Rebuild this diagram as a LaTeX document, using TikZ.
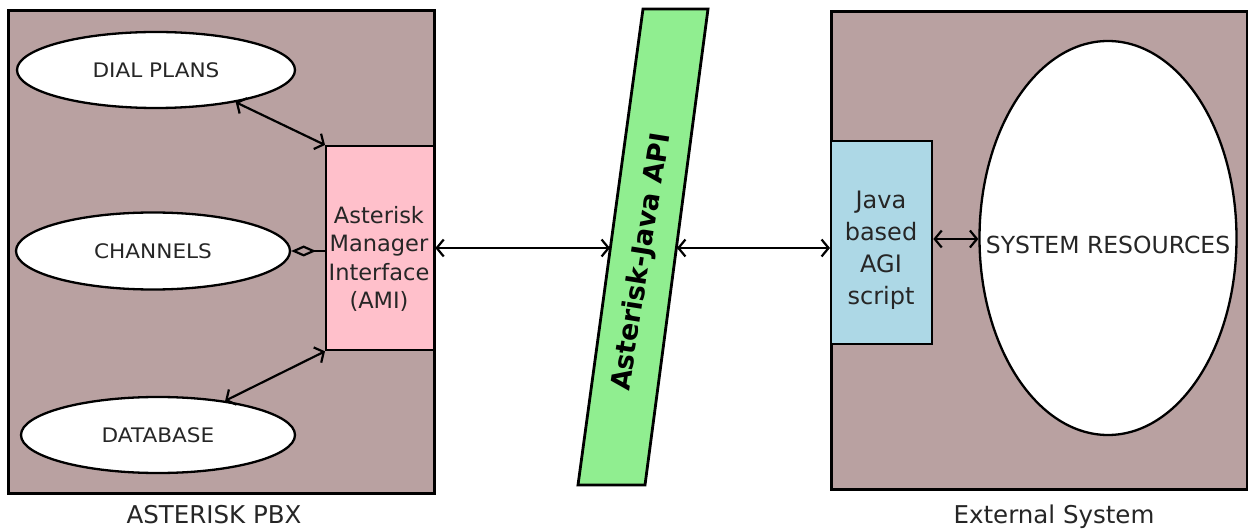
\documentclass[tikz,border=0pt]{standalone}
\usepackage{fontspec}
\setmainfont{DejaVu Sans}
\newfontfamily\ovalfont[FakeStretch=1.08]{DejaVu Sans}
\usetikzlibrary{shapes.geometric,arrows.meta}
\definecolor{boxbg}{RGB}{185,161,161}
\definecolor{amipink}{RGB}{255,192,203}
\definecolor{javablue}{RGB}{173,216,230}
\definecolor{apigreen}{RGB}{144,238,144}
\begin{document}
\begin{tikzpicture}[x=1pt,y=-1pt,
  panel/.style={draw=black, line width=2.8pt, fill=boxbg, anchor=north west, inner sep=0pt},
  oval/.style={ellipse, draw=black, line width=2.3pt, fill=white, inner sep=0pt,
    font=\ovalfont\fontsize{20}{24}\selectfont, text=black!85},
  inbox/.style={draw=black, line width=2.3pt, anchor=north west, inner sep=0pt},
  conn/.style={line width=2.2pt, {Straight Barb[length=7pt,width=17pt]}-{Straight Barb[length=7pt,width=17pt]}},
  caption/.style={anchor=base, font=\fontsize{24.5}{28}\selectfont, text=black!85},
]
\useasboundingbox (0,0) rectangle (1248,529);
\fill[white] (0,0) rectangle (1248,529);

% left panel
\node[panel, minimum width=426pt, minimum height=483pt] (pbx) at (7,9) {};
\node[caption] (pbxlabel) at (214,523) {ASTERISK PBX};

\node[oval, minimum width=278pt, minimum height=76pt] (dial) at (156,70) {DIAL PLANS};
\node[oval, minimum width=274pt, minimum height=77pt] (chan) at (153,251) {CHANNELS};
\node[oval, minimum width=274pt, minimum height=76pt] (db) at (158,435) {DATABASE};

\node[inbox, fill=amipink, minimum width=108pt, minimum height=204pt] (ami) at (325,145) {};
\node[align=center, inner sep=0pt, font=\fontsize{22.5}{28.5}\selectfont, text=black!85] (amitext) at (379,259)
  {Asterisk\\Manager\\Interface\\(AMI)};

\draw[conn] (dial.-22) -- (ami.north west);
\draw[conn] (db.27) -- (ami.south west);
\draw[line width=2.2pt, {Diamond[open,length=25pt,width=11pt]}-] (chan.east) -- (chan.east -| ami.west);

% API bar
\coordinate (apiTL) at (643,9);
\coordinate (apiTR) at (708,9);
\coordinate (apiBR) at (645,485);
\coordinate (apiBL) at (578,485);
\draw[line width=2.8pt, fill=apigreen, line join=miter] (apiTL) -- (apiTR) -- (apiBR) -- (apiBL) -- cycle;
\node[rotate=81, inner sep=0pt, font=\bfseries\fontsize{27}{30}\selectfont] (apitext) at (642,262) {Asterisk-Java API};
\coordinate (apiL) at (610,248);
\coordinate (apiR) at (677,248);

% right panel
\node[panel, minimum width=416pt, minimum height=478pt] (ext) at (830,10) {};
\node[caption] (extlabel) at (1054,523) {External System};

\node[inbox, fill=javablue, minimum width=101pt, minimum height=203pt] (java) at (830,140) {};
\node[align=center, inner sep=0pt, font=\fontsize{24}{32}\selectfont, text=black!85] (javatext) at (881,250)
  {Java\\based\\AGI\\script};

\node[ellipse, draw=black, line width=2.3pt, fill=white, minimum width=257pt, minimum height=394pt, inner sep=0pt] (sysres) at (1108,238) {};
\node[inner sep=0pt, font=\fontsize{23.5}{28}\selectfont, text=black!85] (sysrestext) at (1108,245) {SYSTEM RESOURCES};

% connectors
\draw[conn] (ami.east |- apiL) -- (apiL);
\draw[conn] (apiR) -- (apiR -| java.west);
\draw[conn] (java.east |- 0,239) -- (sysres.west |- 0,239);
\end{tikzpicture}
\end{document}
